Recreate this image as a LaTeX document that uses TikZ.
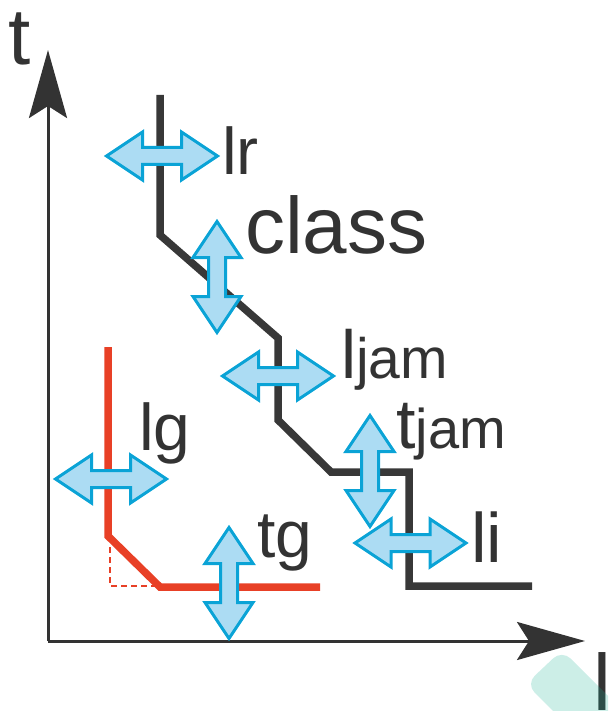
\documentclass[tikz,border=0pt]{standalone}
\usepackage{fontspec}
\setmainfont{Liberation Sans}
\usetikzlibrary{arrows.meta}
\definecolor{txt}{RGB}{51,51,51}
\definecolor{pathblack}{RGB}{56,56,56}
\definecolor{pathred}{RGB}{232,64,38}
\definecolor{arrfill}{RGB}{172,220,243}
\definecolor{arrdraw}{RGB}{10,163,214}
\definecolor{tealish}{RGB}{23,176,148}
\tikzset{
  axis/.style={line width=3pt, draw=txt, -{Stealth[length=68pt, width=38pt, inset=12pt]}},
  blackpath/.style={line width=7.5pt, draw=pathblack},
  redpath/.style={line width=7.5pt, draw=pathred},
  redhelp/.style={line width=1.5pt, draw=pathred, dash pattern=on 6pt off 4pt},
  lbl/.style={anchor=base west, inner sep=0pt, text=txt},
  pics/darr/.style={code={
    \draw[line width=3pt, draw=arrdraw, fill=arrfill, line join=miter]
      (-55.5,0) -- (-19.5,-24) -- (-19.5,-8.5) -- (19.5,-8.5) -- (19.5,-24) -- (55.5,0)
      -- (19.5,24) -- (19.5,8.5) -- (-19.5,8.5) -- (-19.5,24) -- cycle;
  }}
}
\begin{document}
\begin{tikzpicture}[x=1pt,y=-1pt]
\useasboundingbox (0,0) rectangle (608,711);
\clip (0,0) rectangle (608,711);
% axes
\coordinate (o) at (48,641);
\coordinate (ytip) at (48,50);
\coordinate (xtip) at (585,641);
\draw[axis] (o) -- (ytip);
\draw[axis] (o) -- (xtip);
\node[lbl, font=\fontsize{80}{80}\selectfont] (tlab) at (8,65) {t};
\node[lbl, font=\fontsize{80}{80}\selectfont] (llab) at (593,710) {l};
% teal overlay
\fill[tealish, opacity=0.22, rounded corners=12pt]
  (526,684) -- (562,650) -- (660,748) -- (624,782) -- cycle;
% black path
\draw[blackpath] (160,95) -- (160,235) -- (278,338) -- (278,420) -- (331,472)
  -- (409,472) -- (409,586) -- (532,586);
% red path
\draw[redhelp] (110,547) -- (110,586) -- (156,586);
\draw[redpath] (108,347) -- (108,536) -- (160,587) -- (320,587);
% double arrows
\pic at (162,156) {darr};
\pic[rotate=90] at (217,277) {darr};
\pic at (278,376) {darr};
\pic[rotate=90] at (370,471) {darr};
\pic at (410.5,543) {darr};
\pic at (111,479) {darr};
\pic[rotate=90] at (229,583) {darr};
% labels
\node[lbl, font=\fontsize{66}{66}\selectfont] (lr) at (222,175) {lr};
\node[lbl, font=\fontsize{80}{80}\selectfont] (class) at (245,253) {class};
\node[lbl, font=\fontsize{68}{68}\selectfont] (ljam) at (341,378) {l{\fontsize{57}{57}\selectfont jam}};
\node[lbl, font=\fontsize{70}{70}\selectfont] (tjam) at (396,448) {t{\fontsize{56}{56}\selectfont jam}};
\node[lbl, font=\fontsize{66}{66}\selectfont] (lg) at (139,450) {lg};
\node[lbl, font=\fontsize{66}{66}\selectfont] (tg) at (257,557) {tg};
\node[lbl, font=\fontsize{70}{70}\selectfont] (li) at (471,562) {li};
\end{tikzpicture}
\end{document}
